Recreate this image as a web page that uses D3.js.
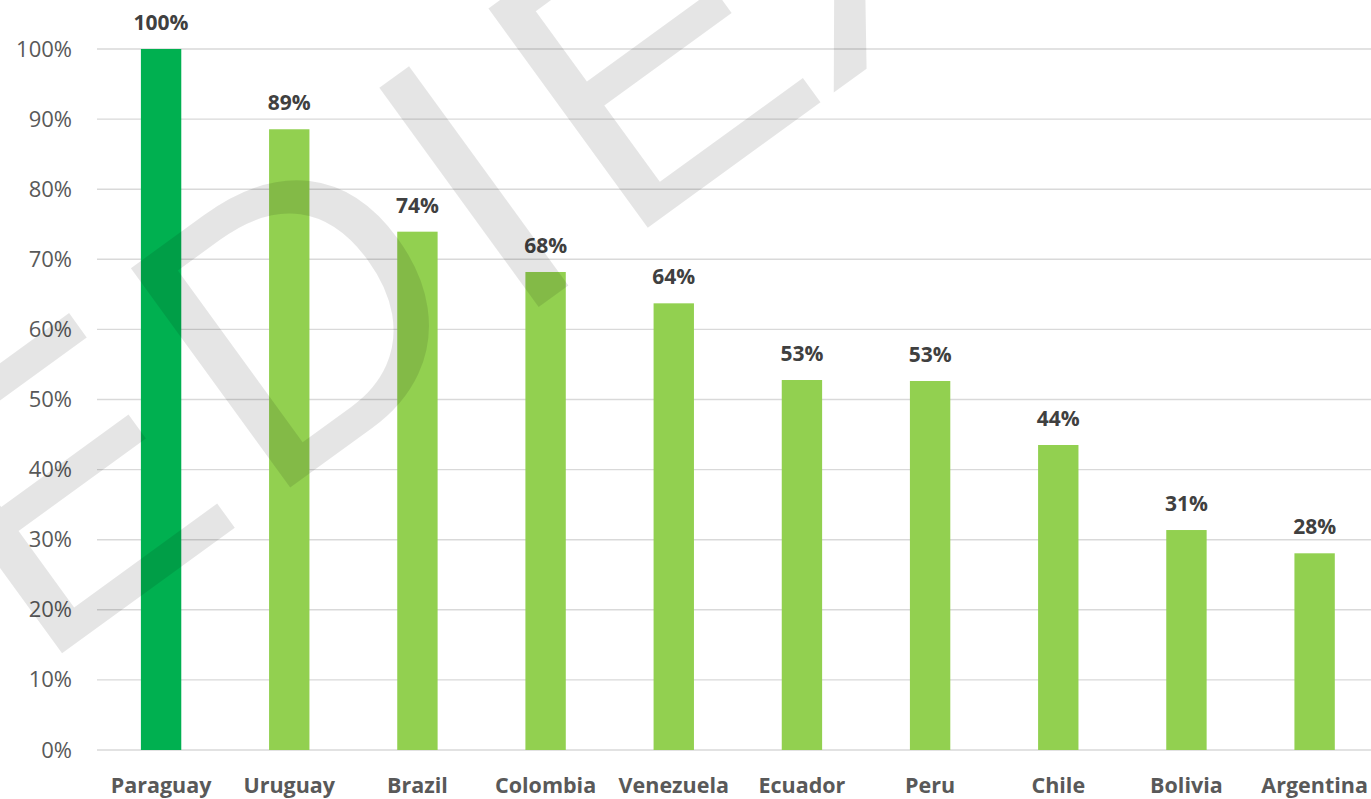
<!DOCTYPE html>
<html>
<head>
<meta charset="utf-8">
<script src="https://cdn.jsdelivr.net/npm/d3@7"></script>
<style>
  html, body { margin: 0; padding: 0; background: #ffffff; overflow: hidden; }
  svg { display: block; }
</style>
</head>
<body>
<svg id="chart" width="1371" height="799"></svg>
<script>
// Share of population by country
const categories = ["Paraguay", "Uruguay", "Brazil", "Colombia", "Venezuela", "Ecuador", "Peru", "Chile", "Bolivia", "Argentina"];
const values = [1.00, 0.8855, 0.7394, 0.6819, 0.6372, 0.5278, 0.5264, 0.4351, 0.3138, 0.2806];
const yTicks = [0, 0.1, 0.2, 0.3, 0.4, 0.5, 0.6, 0.7, 0.8, 0.9, 1.0];
const highlighted = ["Paraguay"];
const watermarkLetters = ["E", "D", "I", "E", "X"];

const W = 1371, H = 799;
const svg = d3.select("#chart");
const fmt = d3.format(".0%");

const x = d3.scaleBand()
  .domain(categories)
  .range([97, 1378.7])
  .paddingInner(0.685)
  .paddingOuter(0.3425);

const y = d3.scaleLinear()
  .domain([0, 1])
  .range([750, 49]);

// horizontal gridlines
svg.append("g")
  .selectAll("line")
  .data(yTicks)
  .join("line")
  .attr("x1", 97)
  .attr("x2", W + 10)
  .attr("y1", d => y(d))
  .attr("y2", d => y(d))
  .attr("stroke", "#d9d9d9")
  .attr("stroke-width", 1.4);

// y axis labels
const yAxis = d3.axisLeft(y).tickValues(yTicks).tickFormat(fmt).tickSize(0).tickPadding(0);
const gy = svg.append("g").attr("transform", "translate(72,0)").call(yAxis);
gy.select(".domain").remove();
gy.selectAll("text")
  .attr("fill", "#595959")
  .style("font-family", "'Open Sans', sans-serif")
  .style("font-size", "22px");

// bars
svg.append("g")
  .selectAll("rect")
  .data(categories)
  .join("rect")
  .attr("x", d => x(d))
  .attr("width", x.bandwidth())
  .attr("y", (d, i) => y(values[i]))
  .attr("height", (d, i) => y(0) - y(values[i]))
  .attr("fill", d => highlighted.includes(d) ? "#00b050" : "#92d050");

// value labels
svg.append("g")
  .selectAll("text")
  .data(categories)
  .join("text")
  .attr("x", d => x(d) + x.bandwidth() / 2)
  .attr("y", (d, i) => y(values[i]) - 19)
  .attr("text-anchor", "middle")
  .attr("fill", "#404040")
  .style("font-family", "'Open Sans', sans-serif")
  .style("font-weight", "700")
  .style("font-size", "21px")
  .text((d, i) => fmt(values[i]));

// category labels
const xAxis = d3.axisBottom(x).tickSize(0).tickPadding(0);
const gx = svg.append("g").attr("transform", "translate(0,793)").call(xAxis);
gx.select(".domain").remove();
gx.selectAll("text")
  .attr("dy", 0)
  .attr("fill", "#595959")
  .style("font-family", "'Open Sans', sans-serif")
  .style("font-weight", "700")
  .style("font-size", "21.5px");

// faint diagonal watermark drawn over the chart
const wmSize = 394;
const wmOffsets = [-335, -53, 256, 389, 614];
const wmBearing = { E: 0.079, D: 0.079, I: 0.094, X: 0.007 };
const wm = svg.append("g")
  .attr("transform", "rotate(-36)")
  .attr("pointer-events", "none");
wm.selectAll("text")
  .data(watermarkLetters)
  .join("text")
  .attr("x", (d, i) => wmOffsets[i] - wmSize * wmBearing[d])
  .attr("y", 565)
  .attr("fill", "#000")
  .attr("fill-opacity", 0.1)
  .style("font-family", "'Liberation Sans', Arial, sans-serif")
  .style("font-size", wmSize + "px")
  .text(d => d);
</script>
</body>
</html>
